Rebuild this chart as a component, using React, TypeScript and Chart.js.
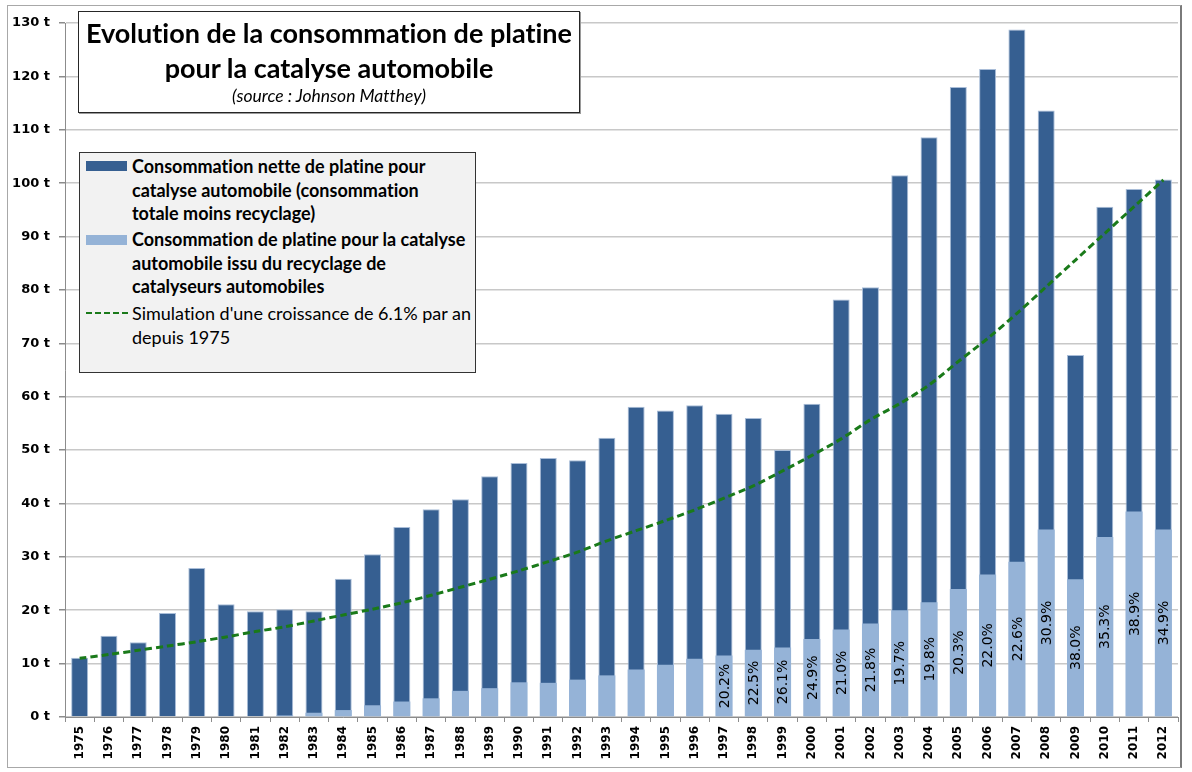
import React, { useEffect, useRef } from "react";
import { Chart, registerables } from "chart.js";

Chart.register(...registerables);

// ---------- DATA ----------
const years = [
  "1975", "1976", "1977", "1978", "1979", "1980", "1981", "1982", "1983", "1984",
  "1985", "1986", "1987", "1988", "1989", "1990", "1991", "1992", "1993", "1994",
  "1995", "1996", "1997", "1998", "1999", "2000", "2001", "2002", "2003", "2004",
  "2005", "2006", "2007", "2008", "2009", "2010", "2011", "2012",
];

// total consumption (net + recycled), tonnes
const totalConsumption = [
  11.1, 15.2, 14.0, 19.5, 27.9, 21.1, 19.8, 20.2, 19.8, 25.9,
  30.5, 35.6, 38.9, 40.8, 45.1, 47.6, 48.5, 48.1, 52.3, 58.1,
  57.4, 58.4, 56.8, 56.0, 50.0, 58.7, 78.2, 80.5, 101.5, 108.6,
  118.0, 121.4, 128.8, 113.6, 67.8, 95.6, 98.9, 100.7,
];

// part coming from recycling of autocatalysts, tonnes
const recycledConsumption = [
  0, 0, 0, 0, 0, 0, 0, 0.3, 0.8, 1.3,
  2.2, 2.9, 3.5, 4.9, 5.4, 6.5, 6.4, 7.0, 7.8, 8.9,
  9.8, 10.9, 11.5, 12.6, 13.0, 14.6, 16.4, 17.5, 20.0, 21.5,
  24.0, 26.7, 29.1, 35.1, 25.8, 33.7, 38.5, 35.1,
];

const recycledShareLabels: (string | null)[] = [
  null, null, null, null, null, null, null, null, null, null,
  null, null, null, null, null, null, null, null, null, null,
  null, null, "20.2%", "22.5%", "26.1%", "24.9%", "21.0%", "21.8%", "19.7%", "19.8%",
  "20.3%", "22.0%", "22.6%", "30.9%", "38.0%", "35.3%", "38.9%", "34.9%",
];

// simulated growth of 6.1 % per year
const simulatedGrowth = [
  11.0, 11.7, 12.5, 13.3, 14.1, 15.0, 16.0, 16.9, 18.0, 19.1,
  20.2, 21.4, 22.8, 24.3, 25.8, 27.4, 29.1, 30.9, 33.0, 34.9,
  36.8, 38.8, 41.0, 43.3, 46.1, 49.0, 52.1, 55.7, 58.7, 62.2,
  66.6, 70.9, 75.6, 80.6, 85.6, 90.6, 95.6, 100.6,
];

const yMin = 0;
const yMax = 130;
const yStep = 10;
const yUnit = " t";

const titleLines = [
  "Evolution de la consommation de platine",
  "pour la catalyse automobile",
];
const sourceText = "(source : Johnson Matthey)";

const legendNet = ["Consommation nette de platine pour", "catalyse automobile (consommation", "totale moins recyclage)"];
const legendRecycled = ["Consommation de platine pour la catalyse", "automobile issu du recyclage de", "catalyseurs automobiles"];
const legendSimulation = ["Simulation d'une croissance de 6.1% par an", "depuis 1975"];

// ---------- STYLE ----------
const DARK = "#365f91";
const LIGHT = "#95b3d7";
const GREEN = "#1a7a1a";
const UI_FONT = "Lato, 'Open Sans', sans-serif";
const AXIS_FONT = "'DejaVu Sans', Verdana, sans-serif";

const pctLabelPlugin = {
  id: "pctLabels",
  afterDatasetsDraw(chart: any) {
    const meta = chart.getDatasetMeta(1);
    const ctx = chart.ctx;
    ctx.save();
    ctx.font = `14px ${AXIS_FONT}`;
    ctx.fillStyle = "#000";
    ctx.textAlign = "center";
    ctx.textBaseline = "middle";
    recycledShareLabels.forEach((lab, i) => {
      if (!lab) return;
      const el = meta.data[i];
      if (!el) return;
      const p = el.getProps(["x", "y", "base"], true);
      const cy = (p.y + p.base) / 2;
      ctx.save();
      ctx.translate(p.x, cy);
      ctx.rotate(-Math.PI / 2);
      ctx.fillText(lab, 0, 1);
      ctx.restore();
    });
    ctx.restore();
  },
};

export default function App() {
  const canvasRef = useRef<HTMLCanvasElement | null>(null);

  useEffect(() => {
    if (!canvasRef.current) return;
    const chart = new Chart(canvasRef.current, {
      type: "bar",
      data: {
        labels: years,
        datasets: [
          {
            type: "bar",
            label: "Consommation nette de platine pour catalyse automobile (consommation totale moins recyclage)",
            data: totalConsumption,
            backgroundColor: DARK,
            borderColor: "#a9bdd8",
            borderWidth: { top: 1, left: 1, right: 1, bottom: 0 },
            borderSkipped: "start",
            barPercentage: 0.58,
            categoryPercentage: 1,
            order: 3,
          },
          {
            type: "bar",
            label: "Consommation de platine pour la catalyse automobile issu du recyclage de catalyseurs automobiles",
            data: recycledConsumption,
            backgroundColor: LIGHT,
            borderWidth: 0,
            barPercentage: 0.58,
            categoryPercentage: 1,
            order: 2,
          },
          {
            type: "line",
            label: "Simulation d'une croissance de 6.1% par an depuis 1975",
            data: simulatedGrowth,
            borderColor: GREEN,
            borderWidth: 3,
            borderDash: [7, 4],
            pointRadius: 0,
            tension: 0.3,
            fill: false,
            order: 1,
          },
        ],
      },
      options: {
        animation: false,
        responsive: false,
        maintainAspectRatio: false,
        layout: { padding: { top: 23, right: 14, left: 0, bottom: 0 } },
        plugins: {
          legend: { display: false },
          tooltip: { enabled: false },
          title: { display: false },
        },
        scales: {
          x: {
            stacked: true,
            offset: true,
            grid: {
              offset: true,
              drawOnChartArea: false,
              drawTicks: true,
              tickLength: 5,
              tickColor: "#8c8c8c",
            },
            border: { color: "#8c8c8c", width: 1 },
            ticks: {
              autoSkip: false,
              maxRotation: 90,
              minRotation: 90,
              padding: 4,
              color: "#000",
              font: { family: AXIS_FONT, size: 12, weight: "bold" },
            },
            afterFit(scale: any) {
              scale.height = 55;
            },
          },
          y: {
            stacked: false,
            min: yMin,
            max: yMax,
            ticks: {
              stepSize: yStep,
              padding: 9,
              color: "#000",
              font: { family: AXIS_FONT, size: 13, weight: "bold" },
              callback: (v: any) => `${v}${yUnit}`,
            },
            grid: {
              color: "#c8c8c8",
              lineWidth: 1.5,
              tickLength: 6,
              tickColor: "#8c8c8c",
            },
            border: { color: "#8c8c8c", width: 1 },
            afterFit(scale: any) {
              scale.width = 65;
            },
          },
        },
      },
      plugins: [pctLabelPlugin],
    } as any);
    return () => chart.destroy();
  }, []);

  const legendText = (lines: string[], bold: boolean) => (
    <div style={{ fontWeight: bold ? 700 : 400 }}>
      {lines.map((l, i) => (
        <div key={i} style={{ whiteSpace: "nowrap" }}>{l}</div>
      ))}
    </div>
  );

  return (
    <div
      style={{
        position: "fixed",
        left: 0,
        top: 0,
        width: 1192,
        height: 772,
        background: "#fff",
        overflow: "hidden",
        fontVariantLigatures: "none",
      }}
    >
      <div
        style={{
          position: "absolute",
          left: 7,
          top: 5,
          width: 1175,
          height: 763,
          border: "1px solid #a8a8a8",
          borderRightColor: "#7a7a7a",
          borderRightWidth: 2,
          boxSizing: "border-box",
        }}
      />
      <canvas
        ref={canvasRef}
        width={1192}
        height={772}
        style={{ position: "absolute", left: 0, top: 0, width: 1192, height: 772 }}
      />
      {/* Title box */}
      <div
        style={{
          position: "absolute",
          left: 78,
          top: 11,
          width: 502,
          height: 102,
          boxSizing: "border-box",
          border: "1.5px solid #262626",
          boxShadow: "1px 1px 0 #9a9a9a",
          background: "#fff",
          fontFamily: UI_FONT,
          color: "#000",
          textAlign: "center",
          paddingTop: 3,
          fontVariantLigatures: "none",
        }}
      >
        {titleLines.map((t, i) => (
          <div key={i} style={{ fontSize: 27, fontWeight: 700, lineHeight: "35px", whiteSpace: "nowrap" }}>
            {t}
          </div>
        ))}
        <div style={{ fontSize: 17.5, fontStyle: "italic", lineHeight: "22px" }}>{sourceText}</div>
      </div>
      {/* Legend box */}
      <div
        style={{
          position: "absolute",
          left: 79,
          top: 152,
          width: 397,
          height: 221,
          boxSizing: "border-box",
          border: "1.5px solid #333",
          background: "#f2f2f2",
          fontFamily: UI_FONT,
          fontSize: 18,
          lineHeight: "23.5px",
          color: "#000",
          fontVariantLigatures: "none",
        }}
      >
        <div style={{ position: "absolute", left: 6, top: 8, width: 41, height: 10, background: DARK }} />
        <div style={{ position: "absolute", left: 6, top: 82, width: 41, height: 10, background: LIGHT }} />
        <div
          style={{
            position: "absolute",
            left: 6,
            top: 159,
            width: 42,
            height: 0,
            borderTop: `2px dashed ${GREEN}`,
          }}
        />
        <div style={{ position: "absolute", left: 52, top: 2 }}>{legendText(legendNet, true)}</div>
        <div style={{ position: "absolute", left: 52, top: 75 }}>{legendText(legendRecycled, true)}</div>
        <div style={{ position: "absolute", left: 52, top: 149 }}>{legendText(legendSimulation, false)}</div>
      </div>
    </div>
  );
}
